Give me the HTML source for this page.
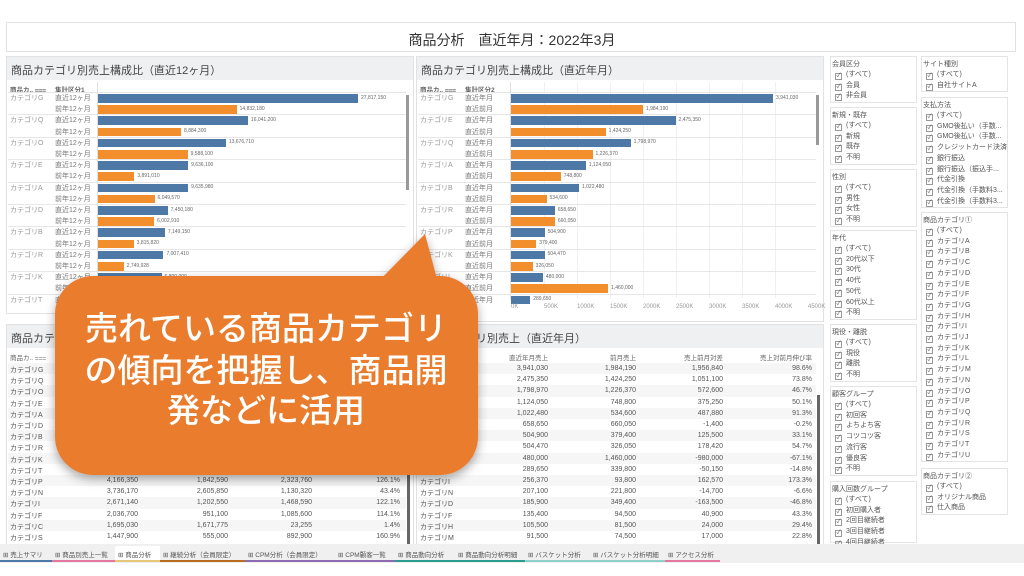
<!DOCTYPE html>
<html><head><meta charset="utf-8">
<style>
*{box-sizing:border-box;margin:0;padding:0}
body{width:1024px;height:576px;overflow:hidden;background:#fff;font-family:"Liberation Sans","Noto Sans CJK JP",sans-serif;position:relative;color:#555}
.a{position:absolute;white-space:nowrap}
.panel{position:absolute;border:1px solid #e2e2e2;background:#fff}
.ph{position:absolute;background:#eef0f2;color:#444;font-size:11px;padding:5px 0 0 4px}
.s{font-size:6.5px;color:#666}
.lab{font-size:7px;color:#777}
.fb{position:absolute;border:1px solid #e4e4e4;background:#fff}
.ft{font-size:7px;color:#555}
.cb{display:inline-block;width:7px;height:7px;border:1px solid #999;margin-right:4px;vertical-align:-1px;font-size:6px;line-height:5px;text-align:center;color:#555}
.tab{position:absolute;top:546px;height:16px;font-size:6.5px;color:#555;padding:3px 0 0 3px}
</style></head><body>
<div class="panel" style="left:6px;top:22px;width:1010px;height:30px"></div>
<div class="a" style="left:0;width:1024px;text-align:center;top:30px;font-size:14px;color:#333">商品分析　直近年月：2022年3月</div>

<div class="panel" style="left:6px;top:56px;width:408px;height:258px"></div>
<div class="ph" style="left:7px;top:57px;width:406px;height:23px">商品カテゴリ別売上構成比（直近12ヶ月）</div>
<div class="panel" style="left:416px;top:56px;width:408px;height:266px"></div>
<div class="ph" style="left:417px;top:57px;width:406px;height:23px">商品カテゴリ別売上構成比（直近年月）</div>
<div class="panel" style="left:6px;top:324px;width:408px;height:222px"></div>
<div class="ph" style="left:7px;top:325px;width:406px;height:23px">商品カテゴリ別売上（直近12ヶ月）</div>
<div class="panel" style="left:416px;top:324px;width:408px;height:222px"></div>
<div class="ph" style="left:417px;top:325px;width:406px;height:23px">商品カテゴリ別売上（直近年月）</div>
<div id="g"></div>

<div class="a" style="left:0;top:544px;width:1024px;height:19px;background:#f0f0f0"></div>
<div id="tabs"></div>

<svg class="a" style="left:0;top:0" width="1024" height="576">
<defs><filter id="sh" x="-10%" y="-10%" width="120%" height="130%"><feDropShadow dx="0" dy="4" stdDeviation="5" flood-color="#000" flood-opacity="0.35"/></filter></defs>
<g filter="url(#sh)" fill="#ea7b2e">
<rect x="55" y="276" width="423" height="199" rx="38"/>
<polygon points="370,290 425,234 440,290"/>
</g>
<text x="266" y="340" font-size="33" fill="#fff" text-anchor="middle" font-family="Liberation Sans,Noto Sans CJK JP,sans-serif" font-weight="500">売れている商品カテゴリ</text>
<text x="266" y="382" font-size="33" fill="#fff" text-anchor="middle" font-family="Liberation Sans,Noto Sans CJK JP,sans-serif" font-weight="500">の傾向を把握し、商品開</text>
<text x="266" y="422" font-size="33" fill="#fff" text-anchor="middle" font-family="Liberation Sans,Noto Sans CJK JP,sans-serif" font-weight="500">発などに活用</text>
</svg>

<script>
var h='';
function t(x,y,s,c,st){h+='<div class="a '+(c||'s')+'" style="left:'+x+'px;top:'+y+'px;'+(st||'')+'">'+s+'</div>';}
function r(x,y,w,hh,col){h+='<div class="a" style="left:'+x+'px;top:'+y+'px;width:'+w+'px;height:'+hh+'px;background:'+col+'"></div>';}
function fmt(n){return n.toLocaleString('en-US');}
var B='#4e79a7',O='#f28e2b';
t(10,84,'商品カ.. ⩶','s','font-weight:bold');t(55,84,'集計区分1','s','font-weight:bold');
var c1=[['G',27817150,14832180],['Q',16041200,8884300],['O',13676710,9588100],['E',9636100,3891010],['A',9635980,6049570],['D',7450180,6002910],['B',7149150,3815820],['R',7007410,2749928],['K',6800000,2600000],['T',5500000,2400000]];
c1.forEach(function(d,i){var y=93+i*22.4;r(8,y-1,398,1,'#e6e6e6');t(10,y,'カテゴリ'+d[0],'lab','color:#999');
for(var k=0;k<2;k++){var yy=y+k*11.2;t(55,yy,k?'前年12ヶ月':'直近12ヶ月','lab');var w=d[1+k]*260/27817150;r(98,yy+1,w,8.5,k?O:B);t(101+w,yy+1.5,fmt(d[1+k]),'s','font-size:5px');}});
r(97,82,1,230,'#e0e0e0');r(406,95,3,95,'#999');
t(420,84,'商品カ.. ⩶','s','font-weight:bold');t(465,84,'集計区分2','s','font-weight:bold');
var c2=[['G',3941030,1984190],['E',2475350,1424250],['Q',1798970,1226370],['A',1124050,748800],['B',1022480,534600],['R',658650,660050],['P',504900,379400],['K',504470,326050],['I',480000,1460000],['J',289650,0]];
for(var g=1;g<9;g++)r(511+g*33,82,1,216,'#f0f0f0');
c2.forEach(function(d,i){var y=93+i*22.4;r(418,y-1,398,1,'#e6e6e6');t(420,y,'カテゴリ'+d[0],'lab','color:#999');
for(var k=0;k<2;k++){var yy=y+k*11.2;if(yy>300)break;t(465,yy,k?'直近前月':'直近年月','lab');var w=d[1+k]*262/3941030;r(511,yy+1,w,8.5,k?O:B);t(514+w,yy+1.5,fmt(d[1+k]),'s','font-size:5px');}});
r(510,82,1,218,'#e0e0e0');r(816,95,3,50,'#999');
['0K','500K','1000K','1500K','2000K','2500K','3000K','3500K','4000K','4500K'].forEach(function(s,i){t(511+i*33,304,s,'s','color:#999;font-size:6px');});
function tbl(x0,cols,hd,rows){t(x0+3,352,'商品カ.. ⩶','s');hd.forEach(function(s,i){t(cols[i]-60,352,s,'s','width:60px;text-align:right');});
rows.forEach(function(d,i){var y=363+i*11.2;if(i%2==0)r(x0+1,y,398,11.2,'#f6f6f6');t(x0+3,y+2,'カテゴリ'+d[0],'lab','color:#555');for(var k=1;k<d.length;k++)t(cols[k-1]-60,y+2,d[k],'lab','width:60px;text-align:right;color:#555');});}
tbl(7,[138,228,312,400],['直近12ヶ月売上','前年売上','売上前年対比','売上前年伸び率'],[['G','','','',''],['Q','','','',''],['O','','','',''],['E','','','',''],['A','','','',''],['D','','','',''],['B','','','',''],['R','','','',''],['K','','','',''],['T','','','',''],['P','4,166,350','1,842,590','2,323,760','126.1%'],['N','3,736,170','2,605,850','1,130,320','43.4%'],['I','2,671,140','1,202,550','1,468,590','122.1%'],['F','2,036,700','951,100','1,085,600','114.1%'],['C','1,695,030','1,671,775','23,255','1.4%'],['S','1,447,900','555,000','892,900','160.9%']]);
tbl(417,[548,636,723,812],['直近年月売上','前月売上','売上前月対差','売上対前月伸び率'],[['G','3,941,030','1,984,190','1,956,840','98.6%'],['E','2,475,350','1,424,250','1,051,100','73.8%'],['Q','1,798,970','1,226,370','572,600','46.7%'],['A','1,124,050','748,800','375,250','50.1%'],['B','1,022,480','534,600','487,880','91.3%'],['R','658,650','660,050','-1,400','-0.2%'],['P','504,900','379,400','125,500','33.1%'],['K','504,470','326,050','178,420','54.7%'],['L','480,000','1,460,000','-980,000','-67.1%'],['J','289,650','339,800','-50,150','-14.8%'],['I','256,370','93,800','162,570','173.3%'],['N','207,100','221,800','-14,700','-6.6%'],['D','185,900','349,400','-163,500','-46.8%'],['F','135,400','94,500','40,900','43.3%'],['H','105,500','81,500','24,000','29.4%'],['M','91,500','74,500','17,000','22.8%']]);
r(407,395,3,150,'#666');r(817,395,3,150,'#666');
function fl(x,y,title,items,hgt){h+='<div class="fb" style="left:'+x+'px;top:'+(y-4)+'px;width:87px;height:'+hgt+'px"></div>';t(x+2,y-1,title,'ft');items.forEach(function(s,i){t(x+5,y+9+i*10.7,'<span class="cb">✓</span>'+s,'ft');});}
fl(830,60,'会員区分',['(すべて)','会員','非会員'],47);
fl(830,111,'新規・既存',['(すべて)','新規','既存','不明'],58);
fl(830,173,'性別',['(すべて)','男性','女性','不明'],58);
fl(830,234,'年代',['(すべて)','20代以下','30代','40代','50代','60代以上','不明'],90);
fl(830,328,'現役・離脱',['(すべて)','現役','離脱','不明'],58);
fl(830,390,'顧客グループ',['(すべて)','初回客','よちよち客','コツコツ客','流行客','優良客','不明'],90);
fl(830,485,'購入回数グループ',['(すべて)','初回購入者','2回目継続者','3回目継続者','4回目継続者'],62);
fl(921,60,'サイト種別',['(すべて)','自社サイトA'],36);
fl(921,101,'支払方法',['(すべて)','GMO後払い（手数...','GMO後払い（手数...','クレジットカード決済','銀行振込','銀行振込（振込手...','代金引換','代金引換（手数料3...','代金引換（手数料3...'],111);
var cats=['(すべて)'];'ABCDEFGHIJKLMNOPQRSTU'.split('').forEach(function(c){cats.push('カテゴリ'+c);});
fl(921,216,'商品カテゴリ①',cats,250);
fl(921,472,'商品カテゴリ②',['(すべて)','オリジナル商品','仕入商品'],47);
document.getElementById('g').innerHTML=h;
var tb=[['売上サマリ',52,'#4e79a7'],['商品別売上一覧',63,'#e377a0'],['商品分析',45,'#e6c77a'],['継続分析（会員限定）',85,'#b86e1e'],['CPM分析（会員限定）',90,'#8c6bb1'],['CPM顧客一覧',60,'#8c6bb1'],['商品動向分析',60,'#2a9d8f'],['商品動向分析明細',70,'#2a9d8f'],['バスケット分析',65,'#8fd1c8'],['バスケット分析明細',75,'#8fd1c8'],['アクセス分析',55,'#e377a0']];
var x=0,th='';tb.forEach(function(d){th+='<div class="tab" style="left:'+x+'px;width:'+d[1]+'px;border-bottom:2px solid '+d[2]+(d[0]=='商品分析'?';background:#fff':'')+'">⊞ '+d[0]+'</div>';x+=d[1];});
document.getElementById('tabs').innerHTML=th;
</script>
</body></html>
